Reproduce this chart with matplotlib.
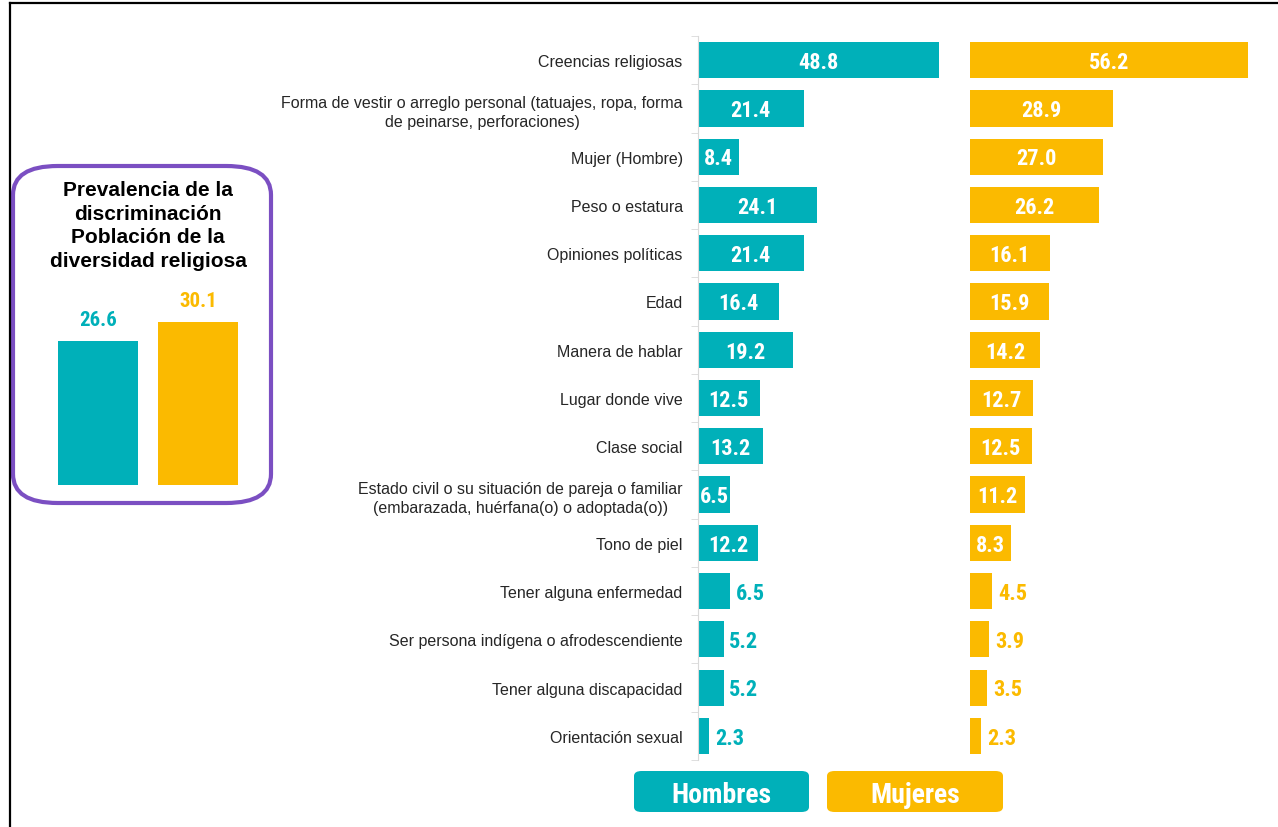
import matplotlib
matplotlib.use('Agg')
import matplotlib.pyplot as plt
from matplotlib import font_manager
from matplotlib.patches import FancyBboxPatch
from matplotlib.lines import Line2D
import numpy as np

categorias = [
    'Creencias religiosas',
    'Forma de vestir o arreglo personal (tatuajes, ropa, forma\nde peinarse, perforaciones)',
    'Mujer (Hombre)',
    'Peso o estatura',
    'Opiniones políticas',
    'Edad',
    'Manera de hablar',
    'Lugar donde vive',
    'Clase social',
    'Estado civil o su situación de pareja o familiar\n(embarazada, huérfana(o) o adoptada(o))',
    'Tono de piel',
    'Tener alguna enfermedad',
    'Ser persona indígena o afrodescendiente',
    'Tener alguna discapacidad',
    'Orientación sexual',
]
hombres = [48.8, 21.4, 8.4, 24.1, 21.4, 16.4, 19.2, 12.5, 13.2, 6.5, 12.2, 6.5, 5.2, 5.2, 2.3]
mujeres = [56.2, 28.9, 27.0, 26.2, 16.1, 15.9, 14.2, 12.7, 12.5, 11.2, 8.3, 4.5, 3.9, 3.5, 2.3]
# las ultimas cuatro filas llevan la etiqueta fuera de la barra
fuera = [False] * 11 + [True] * 4

prev_grupos = ['Hombres', 'Mujeres']
prev_valores = [26.6, 30.1]
prev_titulo = 'Prevalencia de la\ndiscriminación\nPoblación de la\ndiversidad religiosa'

TEAL = '#00B0B9'
AMARILLO = '#FBBA00'
MORADO = '#7B4FC2'
GRIS = '#262626'

disponibles = set(f.name for f in font_manager.fontManager.ttflist)
NUM_FONT = 'Liberation Sans'
for cand in ['Liberation Sans Narrow', 'Roboto Condensed', 'Open Sans Condensed']:
    if cand in disponibles:
        NUM_FONT = cand
        break
TXT_FONT = 'Liberation Sans' if 'Liberation Sans' in disponibles else 'DejaVu Sans'

W, H = 1278, 828
fig = plt.figure(figsize=(W / 100, H / 100), dpi=100)


def caja(x0, y0, x1, y1):
    # pixeles (origen arriba a la izquierda) -> fraccion de figura
    return [x0 / W, 1 - y1 / H, (x1 - x0) / W, (y1 - y0) / H]


n = len(categorias)
y = np.arange(n)
escala = 4.94  # px por punto porcentual

ax_h = fig.add_axes(caja(698, 37, 960, 761))
ax_m = fig.add_axes(caja(970, 37, 1270, 761))

for ax, vals, color in [(ax_h, hombres, TEAL), (ax_m, mujeres, AMARILLO)]:
    ax.barh(y, vals, height=0.75, color=color)
    ax.set_ylim(n - 0.5, -0.5)
    for i, v in enumerate(vals):
        if fuera[i]:
            ax.annotate(f'{v:.1f}', (v, i), xytext=(4, 0.5), textcoords='offset points',
                        ha='left', va='center_baseline', color=color, fontsize=16,
                        fontweight='bold', family=NUM_FONT)
        else:
            ax.annotate(f'{v:.1f}', (v / 2, i), xytext=(0, 0.5), textcoords='offset points',
                        ha='center', va='center_baseline', color='white',
                        fontsize=16, fontweight='bold', family=NUM_FONT)
    for s in ax.spines.values():
        s.set_visible(False)
    ax.set_xticks([])

ax_h.set_xlim(0, 262 / escala)
ax_m.set_xlim(0, 300 / escala)

ax_h.spines['left'].set_visible(True)
ax_h.spines['left'].set_color('#D9D9D9')
ax_h.set_yticks(y)
ax_h.set_yticklabels(categorias, fontsize=11.5, color=GRIS, family=TXT_FONT,
                     multialignment='center', linespacing=1.35)
ax_h.set_yticks(np.arange(n + 1) - 0.5, minor=True)
ax_h.tick_params(axis='y', which='major', length=0, pad=11)
ax_h.tick_params(axis='y', which='minor', length=5, color='#D9D9D9')
ax_m.set_yticks([])

# recuadro de prevalencia
fig.patches.append(FancyBboxPatch((13 / W, 1 - 504 / H), 258 / W, 337 / H,
                                  boxstyle='round,pad=0,rounding_size=0.035',
                                  transform=fig.transFigure, facecolor='none',
                                  edgecolor=MORADO, linewidth=3))
fig.text(148 / W, 1 - 226 / H, prev_titulo, ha='center', va='center', fontsize=15,
         fontweight='bold', family=TXT_FONT, color='black', linespacing=1.3)

ax_p = fig.add_axes(caja(58, 300, 238, 486))
ax_p.bar([0, 1], prev_valores, width=0.8, color=[TEAL, AMARILLO])
ax_p.set_xlim(-0.4, 1.4)
ax_p.set_ylim(0, 186 / 5.43)
for i, v in enumerate(prev_valores):
    ax_p.annotate(f'{v:.1f}', (i, v), xytext=(0, 8), textcoords='offset points',
                  ha='center', va='bottom', color=[TEAL, AMARILLO][i], fontsize=15,
                  fontweight='bold', family=NUM_FONT)
ax_p.axis('off')

# leyenda
for (x0, x1), nombre, color in [((634, 809), prev_grupos[0], TEAL), ((827, 1003), prev_grupos[1], AMARILLO)]:
    fig.patches.append(FancyBboxPatch((x0 / W, 1 - 813 / H), (x1 - x0) / W, 41 / H,
                                      boxstyle='round,pad=0,rounding_size=0.006',
                                      transform=fig.transFigure, facecolor=color,
                                      edgecolor='none'))
    fig.text((x0 + x1) / 2 / W, 1 - 793 / H, nombre, ha='center', va='center_baseline',
             fontsize=20, fontweight='bold', color='white', family=NUM_FONT)

# marco
fig.add_artist(Line2D([9.5 / W, 1], [1 - 3.5 / H] * 2, transform=fig.transFigure,
                      color='black', linewidth=1.6))
fig.add_artist(Line2D([9.5 / W] * 2, [1 - 3.5 / H, 0], transform=fig.transFigure,
                      color='black', linewidth=1.6))

fig.savefig('out.png', dpi=100)
